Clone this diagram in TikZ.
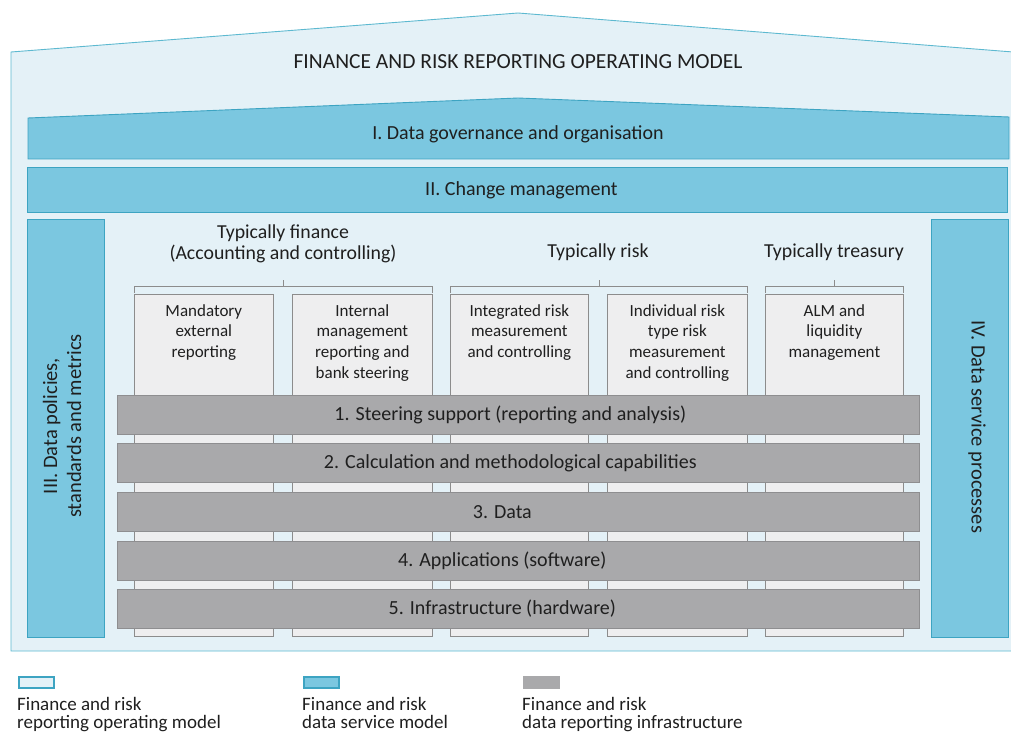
\documentclass[tikz,border=0pt]{standalone}
\usepackage{fontspec}
\setmainfont{Carlito}
\usetikzlibrary{calc}
\definecolor{outerfill}{HTML}{E4F1F7}
\definecolor{outerline}{HTML}{5DB9D0}
\definecolor{bandfill}{HTML}{7BC7E0}
\definecolor{bandline}{HTML}{3DA4C2}
\definecolor{gfill}{HTML}{A9A9AB}
\definecolor{gline}{HTML}{8E8E90}
\definecolor{cfill}{HTML}{EEEEEF}
\definecolor{cline}{HTML}{8C8C8C}
\definecolor{txt}{HTML}{1F1F1F}
\begin{document}
\begin{tikzpicture}[x=1pt,y=-1pt,
  outer/.style={draw=outerline, fill=outerfill, line width=0.9pt},
  band/.style={draw=bandline, fill=bandfill, line width=0.9pt},
  bandbox/.style={band, anchor=north west, inner sep=0pt},
  gband/.style={draw=gline, fill=gfill, line width=0.7pt, anchor=north west, inner sep=0pt, minimum width=802pt, minimum height=39pt},
  colbox/.style={draw=cline, fill=cfill, line width=0.7pt, anchor=north west, inner sep=0pt, minimum height=342pt},
  lbl/.style={text=txt, font=\fontsize{20}{22}\selectfont, inner sep=0pt},
  ttl/.style={text=txt, font=\fontsize{21.5}{24}\selectfont, inner sep=0pt},
  side/.style={text=txt, font=\fontsize{20.5}{24}\selectfont, align=center, inner sep=0pt},
  coltxt/.style={text=txt, font=\fontsize{17}{20.7}\selectfont, align=center, inner sep=0pt, anchor=north},
  grptxt/.style={text=txt, font=\fontsize{19.8}{21}\selectfont, align=center, inner sep=0pt},
  brk/.style={draw=cline, line width=0.7pt},
  legtxt/.style={text=txt, font=\fontsize{19}{18}\selectfont, align=left, inner sep=0pt, anchor=north west},
  legbox/.style={line width=1.6pt, anchor=north west, inner sep=0pt, minimum width=35pt, minimum height=11pt}]
\useasboundingbox (0,0) rectangle (1011,735);
% outer house
\coordinate (hbl) at (11,651);
\coordinate (htl) at (11,52);
\coordinate (hpk) at (518,13);
\coordinate (htr) at (1013,52);
\coordinate (hbr) at (1013,651);
\draw[outer] (hbl) -- (htl) -- (hpk) -- (htr) -- (hbr) -- cycle;
\node[ttl] (title) at (518,62) {FINANCE AND RISK REPORTING OPERATING MODEL};
% band I (roof-shaped top)
\coordinate (b1bl) at (28,159);
\coordinate (b1tl) at (28,118);
\coordinate (b1pk) at (518,98);
\coordinate (b1tr) at (1009,117);
\coordinate (b1br) at (1009,159);
\draw[band] (b1bl) -- (b1tl) -- (b1pk) -- (b1tr) -- (b1br) -- cycle;
\node[lbl] (b1) at (518,134) {I. Data governance and organisation};
% band II
\node[bandbox, minimum width=980pt, minimum height=45pt] (b2box) at (27,167) {};
\node[lbl] (b2) at ($(b2box.center)+(4,0)$) {II. Change management};
% side bars
\node[bandbox, minimum width=77pt, minimum height=418pt] (s3) at (27,219) {};
\node[side, rotate=90] (s3t) at (62,426) {III. Data policies,\\standards and metrics};
\node[bandbox, minimum width=77pt, minimum height=418pt] (s4) at (931,219) {};
\node[side, rotate=-90] (s4t) at (977,427) {IV. Data service processes};
% column boxes
\node[colbox, minimum width=139pt] (c1) at (134,294) {};
\node[colbox, minimum width=140pt] (c2) at (292,294) {};
\node[colbox, minimum width=138pt] (c3) at (450,294) {};
\node[colbox, minimum width=140pt] (c4) at (607,294) {};
\node[colbox, minimum width=138pt] (c5) at (765,294) {};
\node[coltxt] (c1t) at ($(c1.north)+(0,10)$) {Mandatory\\external\\reporting};
\node[coltxt] (c2t) at ($(c2.north)+(0,10)$) {Internal\\management\\reporting and\\bank steering};
\node[coltxt] (c3t) at ($(c3.north)+(0,10)$) {Integrated risk\\measurement\\and controlling};
\node[coltxt] (c4t) at ($(c4.north)+(0,10)$) {Individual risk\\type risk\\measurement\\and controlling};
\node[coltxt] (c5t) at ($(c5.north)+(0,10)$) {ALM and\\liquidity\\management};
% brackets
\coordinate (fa) at ($(c1.north west)+(0,-8)$);
\coordinate (fb) at ($(c2.north east)+(0,-8)$);
\coordinate (fm) at ($(fa)!0.5!(fb)$);
\draw[brk] ($(fa)+(0,7)$) -- (fa) -- (fb) -- ($(fb)+(0,7)$);
\draw[brk] (fm) -- ($(fm)+(0,-6)$);
\coordinate (ra) at ($(c3.north west)+(0,-8)$);
\coordinate (rb) at ($(c4.north east)+(0,-8)$);
\coordinate (rm) at ($(ra)!0.5!(rb)$);
\draw[brk] ($(ra)+(0,7)$) -- (ra) -- (rb) -- ($(rb)+(0,7)$);
\draw[brk] (rm) -- ($(rm)+(0,-6)$);
\coordinate (ta) at ($(c5.north west)+(0,-8)$);
\coordinate (tb) at ($(c5.north east)+(0,-8)$);
\coordinate (tm) at ($(ta)!0.5!(tb)$);
\draw[brk] ($(ta)+(0,7)$) -- (ta) -- (tb) -- ($(tb)+(0,7)$);
\draw[brk] (tm) -- ($(tm)+(0,-6)$);
\node[grptxt] (gf) at (283,244) {Typically finance\\(Accounting and controlling)};
\node[grptxt] (gr) at (598,252) {Typically risk};
\node[grptxt] (gt) at (834,252) {Typically treasury};
% gray bands
\node[gband] (g1) at (117,395) {};
\node[gband] (g2) at (117,443) {};
\node[gband] (g3) at (117,492) {};
\node[gband] (g4) at (117,541) {};
\node[gband] (g5) at (117,589) {};
\node[lbl] (g1t) at ($(g1.center)+(-8,0)$) {1. Steering support (reporting and analysis)};
\node[lbl] (g2t) at ($(g2.center)+(-8,0)$) {2. Calculation and methodological capabilities};
\node[lbl] (g3t) at ($(g3.center)+(-16,0)$) {3. Data};
\node[lbl] (g4t) at ($(g4.center)+(-16,0)$) {4. Applications (software)};
\node[lbl] (g5t) at ($(g5.center)+(-16,0)$) {5. Infrastructure (hardware)};
% legend
\node[legbox, draw=bandline, fill=outerfill] (l1) at (18,676) {};
\node[legbox, draw=bandline, fill=bandfill] (l2) at (303,676) {};
\node[legbox, draw=gfill, fill=gfill] (l3) at (523,676) {};
\node[legtxt] (l1t) at (17,697) {Finance and risk\\reporting operating model};
\node[legtxt] (l2t) at (302,697) {Finance and risk\\data service model};
\node[legtxt] (l3t) at (522,697) {Finance and risk\\data reporting infrastructure};
\end{tikzpicture}
\end{document}
